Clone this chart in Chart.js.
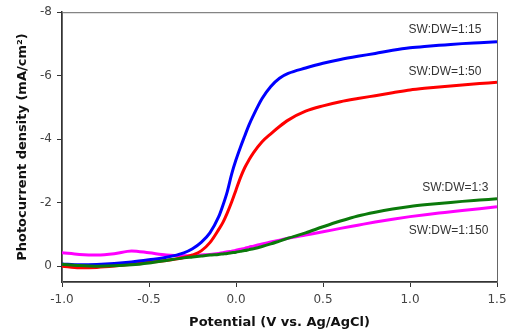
<!DOCTYPE html>
<html>
<head>
<meta charset="utf-8">
<script src="https://cdn.jsdelivr.net/npm/chart.js@4/dist/chart.umd.min.js"></script>
<style>
  html, body { margin: 0; padding: 0; background: #fff; }
  #wrap { width: 509px; height: 333px; }
</style>
</head>
<body>
<div id="wrap"><canvas id="pecChart" width="509" height="333"></canvas></div>
<script>
// potential (V vs. Ag/AgCl)
const potentials = [-1.0, -0.9, -0.8, -0.7, -0.6, -0.5, -0.4, -0.3, -0.25, -0.2, -0.15, -0.1, -0.075, -0.05, -0.025, 0.0,
  0.025, 0.05, 0.075, 0.1, 0.15, 0.2, 0.25, 0.3, 0.4, 0.5, 0.6, 0.7, 0.8, 0.9, 1.0, 1.1, 1.2, 1.3, 1.4, 1.5];

// photocurrent density (mA/cm2)
const sw15 = [-0.07, -0.04, -0.05, -0.08, -0.13, -0.2, -0.28, -0.42, -0.55, -0.75, -1.05, -1.55, -1.92, -2.35, -2.9, -3.35,
  -3.74, -4.1, -4.45, -4.75, -5.28, -5.66, -5.92, -6.07, -6.24, -6.39, -6.51, -6.61, -6.7, -6.8, -6.88, -6.93, -6.97, -7.01, -7.04, -7.07];
const sw50 = [0.0, 0.05, 0.04, 0.0, -0.06, -0.12, -0.18, -0.27, -0.35, -0.48, -0.74, -1.15, -1.38, -1.68, -2.02, -2.4,
  -2.78, -3.1, -3.35, -3.57, -3.92, -4.17, -4.4, -4.6, -4.88, -5.05, -5.18, -5.28, -5.37, -5.46, -5.55, -5.61, -5.66, -5.71, -5.75, -5.79];
const sw3 = [-0.06, -0.02, 0.0, -0.01, -0.04, -0.1, -0.18, -0.26, -0.29, -0.32, -0.35, -0.37, -0.385, -0.4, -0.42, -0.44,
  -0.465, -0.49, -0.52, -0.55, -0.62, -0.7, -0.79, -0.88, -1.05, -1.24, -1.42, -1.58, -1.7, -1.8, -1.88, -1.94, -1.99, -2.04, -2.08, -2.12];
const sw150 = [-0.42, -0.37, -0.35, -0.39, -0.48, -0.42, -0.35, -0.33, -0.33, -0.35, -0.37, -0.4, -0.42, -0.45, -0.47, -0.5,
  -0.53, -0.56, -0.6, -0.63, -0.7, -0.76, -0.82, -0.88, -0.98, -1.08, -1.19, -1.29, -1.39, -1.48, -1.56, -1.63, -1.69, -1.75, -1.81, -1.87];

const xTicks = [-1.0, -0.5, 0.0, 0.5, 1.0, 1.5];
const yTicks = [-8, -6, -4, -2, 0];

// curve labels, anchored in data units (right edge of text)
const curveLabels = ["SW:DW=1:15", "SW:DW=1:50", "SW:DW=1:3", "SW:DW=1:150"];
const labelAnchors = [[1.41, -7.45], [1.41, -6.12], [1.45, -2.48], [1.45, -1.12]];

const toPts = (arr) => arr.map((v, i) => ({ x: potentials[i], y: v }));

const frameAndLabels = {
  id: "frameAndLabels",
  beforeDatasetsDraw(chart) {
    const { ctx, chartArea: a } = chart;
    ctx.save();
    ctx.strokeStyle = "#666";
    ctx.lineWidth = 1;
    ctx.strokeRect(a.left + 0.5, a.top + 0.5, a.right - a.left, a.bottom - a.top);
    ctx.restore();
  },
  afterDatasetsDraw(chart) {
    const { ctx, scales } = chart;
    ctx.save();
    ctx.font = "12px 'Liberation Sans', Arial, sans-serif";
    ctx.fillStyle = "#333";
    ctx.textAlign = "right";
    ctx.textBaseline = "middle";
    curveLabels.forEach((t, i) => {
      ctx.fillText(t, scales.x.getPixelForValue(labelAnchors[i][0]), scales.y.getPixelForValue(labelAnchors[i][1]));
    });
    ctx.restore();
  },
};

const lineStyle = (color, order) => ({
  borderColor: color,
  backgroundColor: color,
  borderWidth: 3,
  pointRadius: 0,
  cubicInterpolationMode: "monotone",
  fill: false,
  order: order,
});

new Chart(document.getElementById("pecChart"), {
  type: "line",
  data: {
    datasets: [
      { label: "SW:DW=1:15", data: toPts(sw15), ...lineStyle("#0000FF", 1) },
      { label: "SW:DW=1:50", data: toPts(sw50), ...lineStyle("#FF0000", 2) },
      { label: "SW:DW=1:3", data: toPts(sw3), ...lineStyle("#0B7A0B", 0) },
      { label: "SW:DW=1:150", data: toPts(sw150), ...lineStyle("#FF00FF", 3) },
    ],
  },
  options: {
    responsive: false,
    animation: false,
    layout: { padding: { left: 0, top: 10, right: 0, bottom: 0 } },
    plugins: { legend: { display: false }, tooltip: { enabled: false } },
    scales: {
      x: {
        type: "linear",
        min: -1.0,
        max: 1.5,
        afterBuildTicks: (axis) => { axis.ticks = xTicks.map((v) => ({ value: v })); },
        afterFit: (axis) => { axis.height = 51; axis.paddingRight = 12; },
        grid: { drawOnChartArea: false, drawTicks: true, tickLength: 5, color: "#333" },
        border: { display: true, color: "#333", width: 1.5 },
        ticks: {
          color: "#444",
          padding: 6,
          maxRotation: 0,
          font: { family: "'DejaVu Sans', Verdana, sans-serif", size: 12 },
          callback: (v) => Number(v).toFixed(1),
        },
        title: {
          display: true,
          text: "Potential (V vs. Ag/AgCl)",
          color: "#111",
          padding: { top: 3, bottom: 3 },
          font: { family: "'DejaVu Sans', Verdana, sans-serif", size: 13, weight: "bold" },
        },
      },
      y: {
        type: "linear",
        min: -8,
        max: 0.5,
        reverse: true,
        afterBuildTicks: (axis) => { axis.ticks = yTicks.map((v) => ({ value: v })); },
        afterFit: (axis) => { axis.width = 62; },
        grid: { drawOnChartArea: false, drawTicks: true, tickLength: 5, color: "#333" },
        border: { display: true, color: "#333", width: 1.5 },
        ticks: {
          color: "#444",
          padding: 5,
          font: { family: "'DejaVu Sans', Verdana, sans-serif", size: 12 },
          callback: (v) => String(v),
        },
        title: {
          display: true,
          text: "Photocurrent density (mA/cm\u00B2)",
          color: "#111",
          padding: { top: 15, bottom: 15 },
          font: { family: "'DejaVu Sans', Verdana, sans-serif", size: 13, weight: "bold" },
        },
      },
    },
  },
  plugins: [frameAndLabels],
});
</script>
</body>
</html>
